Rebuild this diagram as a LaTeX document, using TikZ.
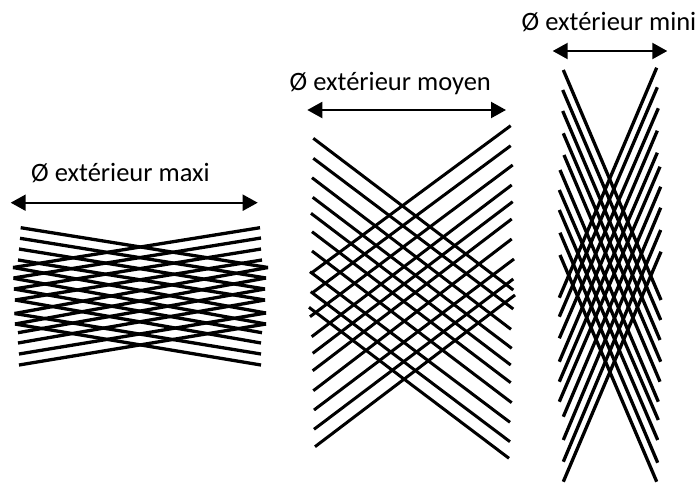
\documentclass[tikz,border=0pt]{standalone}
\usepackage{fontspec}
\setmainfont{Carlito}
\usetikzlibrary{arrows.meta,positioning}
\tikzset{
  wire/.style={line width=#1, black},
  wire/.default=3.3pt,
  dim/.style={{Triangle[length=15pt,width=16pt]}-{Triangle[length=15pt,width=16pt]}, line width=2.1pt, black},
  dimlabel/.style={font=\fontsize{26.5}{30}\selectfont, inner sep=0pt, anchor=base west},
}

\begin{document}
\begin{tikzpicture}[x=1pt, y=-1pt]
  \useasboundingbox (0,0) rectangle (696,483);

  % Diameter maxi
  \foreach \xa/\ya/\xb/\yb in {20.7/227.7/268/267.5, 20/238.3/266/278, 19/249/265/289, 18/260/265/300,
      13/267.5/266/313, 13.5/278.3/266/324, 14/289/262/332.7, 15/300/261/343, 14.5/313.5/261/354, 15/324/261/365,
      13/267.5/260/227.7, 13.5/278/261/238, 14/289/261/249, 15/300/262/260, 14.5/313.5/268/267.5,
      15/324/266/278, 18/332.7/265/289, 18/343/265/300, 19/354/266/313, 19/365/266/324}
    \draw[wire] (\xa,\ya) -- (\xb,\yb);
  \coordinate (maxiL) at (10.7,202.7);
  \coordinate (maxiR) at (257.7,202.7);
  \draw[dim] (maxiL) -- (maxiR);
  \node[dimlabel] (maxilabel) at (31,181) {Ø extérieur maxi};

  % Diameter moyen
  \foreach \xa/\ya/\xb/\yb in {313.3/138.3/513.3/290, 313.3/158.3/513.3/309, 312/177.7/511/329.3, 312.7/197.3/511.7/348.3,
      311/213.3/510.7/365, 312/231.7/510.7/382.7, 312/251/511.7/402.7, 310/271.7/510/422.3, 310.7/291.7/510/441.7, 309/307.3/509/458.3,
      311/273.3/510.7/125.7, 311.7/293.3/510.7/145.7, 310/316.7/512.7/165, 311.7/336.7/511.7/185, 312.7/353.3/512.7/201.7,
      312.7/370.7/511.7/219, 313.3/390.7/511.7/239, 314/410/514/259, 314/429.3/513.3/279, 315/446.7/515/295}
    \draw[wire=3pt] (\xa,\ya) -- (\xb,\yb);
  \coordinate (moyenL) at (307.3,110);
  \coordinate (moyenR) at (506,110);
  \draw[dim] (moyenL) -- (moyenR);
  \node[dimlabel] (moyenlabel) at (289.5,90) {Ø extérieur moyen};

  % Diameter mini
  \foreach \xa/\ya/\xb/\yb in {563.3/70/661/300, 562.7/90/660.7/320, 562.7/111/660/340, 563.3/133.3/660.7/361.7, 564/155/660/381.7,
      560/170/658.3/401.7, 559.3/190/658.3/420, 559.3/210/657.7/440, 560/232.7/657.7/462.7, 560/255/656.7/481.7,
      559.3/297.7/656.7/67.7, 559.3/316.7/657.3/87.3, 559.3/338.3/658.3/108.3, 559.3/361.7/657.3/130.7, 559.3/381.7/657.3/152.7,
      559.3/401.7/660/166.7, 563.3/416.7/660.7/186.7, 563.3/440/660.7/207.7, 563.3/461.7/660.7/230, 563.3/481.7/661/251.7}
    \draw[wire] (\xa,\ya) -- (\xb,\yb);
  \coordinate (miniL) at (552.7,51);
  \coordinate (miniR) at (667.3,51);
  \draw[dim] (miniL) -- (miniR);
  \node[dimlabel] (minilabel) at (521.5,30) {Ø extérieur mini};
\end{tikzpicture}
\end{document}
